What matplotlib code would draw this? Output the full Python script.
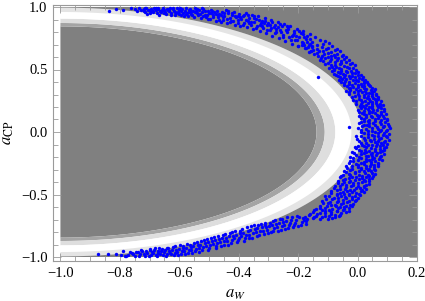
import numpy as np
import matplotlib
matplotlib.use("Agg")
import matplotlib.pyplot as plt
from matplotlib.ticker import MultipleLocator

plt.rcParams['font.family'] = ['Liberation Serif', 'DejaVu Serif']
plt.rcParams['mathtext.fontset'] = 'stix'

# allowed-region bands around (-1, 0): radius levels and fill colours
band_levels = [0.0, 0.845, 0.872, 0.907, 0.96, 0.995, 3.0]
band_colors = ['#808080', '#a4a4a4', '#dedede', '#ffffff', '#e4e4e4', '#808080']
x_scale = 1.02

# scan points (a_W, a_CP)
top_pts = [
    (-0.837, 0.970), (-0.812, 0.988), (-0.790, 0.975), (-0.763, 0.990), (-0.748, 0.982),
    (-0.742, 0.965), (-0.735, 0.992), (-0.728, 0.978),
    (-0.720, 0.985), (-0.716, 0.962), (-0.711, 0.994), (-0.705, 0.975), (-0.700, 0.955),
    (-0.694, 0.988), (-0.690, 0.968), (-0.684, 0.996), (-0.679, 0.980), (-0.675, 0.950),
    (-0.670, 0.990), (-0.664, 0.972), (-0.660, 0.958), (-0.655, 0.993), (-0.650, 0.978),
    (-0.646, 0.945), (-0.641, 0.985), (-0.636, 0.965), (-0.632, 0.995), (-0.627, 0.952),
    (-0.622, 0.982), (-0.618, 0.970), (-0.613, 0.940), (-0.608, 0.990), (-0.604, 0.960),
    (-0.600, 0.978), (-0.595, 0.935), (-0.590, 0.987), (-0.586, 0.952), (-0.582, 0.970),
    (-0.577, 0.994), (-0.572, 0.930), (-0.568, 0.962), (-0.563, 0.983), (-0.559, 0.945),
    (-0.555, 0.972), (-0.550, 0.920), (-0.546, 0.990), (-0.541, 0.955), (-0.537, 0.935),
    (-0.532, 0.976), (-0.528, 0.912), (-0.523, 0.962), (-0.519, 0.985), (-0.514, 0.940),
    (-0.510, 0.920), (-0.505, 0.968), (-0.501, 0.950),
    (-0.496, 0.905), (-0.492, 0.978), (-0.487, 0.935), (-0.483, 0.958), (-0.478, 0.890),
    (-0.474, 0.970), (-0.470, 0.918), (-0.465, 0.945), (-0.461, 0.880), (-0.457, 0.962),
    (-0.452, 0.900), (-0.448, 0.930), (-0.443, 0.975), (-0.439, 0.872), (-0.435, 0.950),
    (-0.430, 0.910), (-0.426, 0.888), (-0.421, 0.938), (-0.417, 0.962), (-0.413, 0.860),
    (-0.408, 0.920), (-0.404, 0.895), (-0.399, 0.945), (-0.395, 0.850), (-0.391, 0.905),
    (-0.386, 0.930), (-0.382, 0.875), (-0.377, 0.955), (-0.373, 0.840), (-0.369, 0.890),
    (-0.364, 0.915), (-0.360, 0.860), (-0.356, 0.940), (-0.352, 0.825), (-0.347, 0.878),
    (-0.343, 0.905), (-0.339, 0.848), (-0.334, 0.925), (-0.330, 0.810), (-0.326, 0.870),
    (-0.321, 0.890), (-0.317, 0.835), (-0.313, 0.910), (-0.308, 0.790), (-0.304, 0.855),
    (-0.300, 0.875), (-0.295, 0.815), (-0.291, 0.895), (-0.287, 0.770), (-0.282, 0.838),
    (-0.278, 0.860), (-0.274, 0.800), (-0.269, 0.878), (-0.265, 0.750), (-0.261, 0.820),
    (-0.256, 0.845), (-0.252, 0.780), (-0.248, 0.862), (-0.243, 0.728), (-0.239, 0.800),
    (-0.235, 0.828), (-0.230, 0.760), (-0.226, 0.845), (-0.222, 0.708), (-0.217, 0.780),
    (-0.213, 0.810), (-0.209, 0.740), (-0.204, 0.826), (-0.200, 0.690), (-0.196, 0.760),
    (-0.191, 0.792), (-0.187, 0.720), (-0.183, 0.805), (-0.178, 0.670), (-0.174, 0.742),
    (-0.170, 0.772), (-0.165, 0.700), (-0.161, 0.785), (-0.157, 0.650), (-0.152, 0.722),
    # second pass, filling the gaps
    (-0.718, 0.972), (-0.707, 0.948), (-0.697, 0.978), (-0.687, 0.958), (-0.677, 0.995),
    (-0.667, 0.940), (-0.657, 0.980), (-0.647, 0.962), (-0.638, 0.975), (-0.629, 0.938),
    (-0.620, 0.992), (-0.611, 0.955), (-0.602, 0.945), (-0.593, 0.972), (-0.584, 0.925),
    (-0.575, 0.955), (-0.566, 0.978), (-0.557, 0.935), (-0.548, 0.962), (-0.539, 0.985),
    (-0.530, 0.948), (-0.521, 0.928), (-0.512, 0.972), (-0.503, 0.905), (-0.494, 0.950),
    (-0.485, 0.918), (-0.476, 0.948), (-0.467, 0.898), (-0.458, 0.935), (-0.449, 0.955),
    (-0.440, 0.905), (-0.431, 0.882), (-0.422, 0.950), (-0.413, 0.930), (-0.404, 0.872),
    (-0.395, 0.920), (-0.386, 0.858), (-0.377, 0.900), (-0.368, 0.935), (-0.359, 0.880),
    (-0.350, 0.912), (-0.341, 0.830), (-0.332, 0.895), (-0.323, 0.850), (-0.314, 0.872),
    (-0.305, 0.820), (-0.296, 0.855), (-0.287, 0.880), (-0.278, 0.790), (-0.269, 0.840),
    (-0.260, 0.862), (-0.251, 0.760), (-0.242, 0.815), (-0.233, 0.842), (-0.224, 0.735),
    (-0.215, 0.795), (-0.206, 0.765), (-0.197, 0.808), (-0.188, 0.700), (-0.179, 0.758),
    (-0.170, 0.720), (-0.161, 0.748), (-0.154, 0.680),
    (-0.715, 0.990), (-0.695, 0.965), (-0.672, 0.982), (-0.652, 0.950), (-0.633, 0.985),
    (-0.615, 0.960), (-0.597, 0.992), (-0.579, 0.945), (-0.561, 0.965), (-0.543, 0.972),
    (-0.525, 0.990), (-0.507, 0.935), (-0.489, 0.965), (-0.471, 0.938), (-0.453, 0.918),
    (-0.437, 0.965), (-0.419, 0.885), (-0.401, 0.930), (-0.383, 0.940), (-0.365, 0.870),
    (-0.347, 0.925), (-0.329, 0.860), (-0.311, 0.885), (-0.293, 0.830), (-0.275, 0.822),
    (-0.257, 0.800), (-0.239, 0.850), (-0.221, 0.770), (-0.203, 0.738), (-0.185, 0.785),
    (-0.167, 0.680),
]

right_pts = [
    (-0.142, 0.760), (-0.185, 0.715), (-0.128, 0.738), (-0.160, 0.705), (-0.110, 0.725),
    (-0.200, 0.690), (-0.138, 0.695), (-0.095, 0.712), (-0.175, 0.672), (-0.120, 0.680),
    (-0.150, 0.660), (-0.085, 0.690), (-0.105, 0.662), (-0.165, 0.640), (-0.130, 0.645),
    (-0.070, 0.668), (-0.090, 0.640), (-0.145, 0.622), (-0.112, 0.625), (-0.060, 0.645),
    (-0.132, 0.605), (-0.078, 0.615),
    (-0.100, 0.600), (-0.050, 0.620), (-0.122, 0.590), (-0.065, 0.595), (-0.088, 0.582),
    (-0.040, 0.600), (-0.115, 0.570), (-0.055, 0.572), (-0.075, 0.560), (-0.100, 0.552),
    (-0.030, 0.575), (-0.060, 0.545), (-0.090, 0.535), (-0.020, 0.555), (-0.045, 0.530),
    (-0.072, 0.520), (-0.010, 0.535), (-0.095, 0.510), (-0.030, 0.512), (-0.055, 0.502),
    (-0.080, 0.495), (-0.005, 0.498), (-0.040, 0.488), (-0.065, 0.478), (0.002, 0.480),
    (-0.020, 0.470), (-0.050, 0.462), (-0.072, 0.455), (0.010, 0.460), (-0.030, 0.450),
    (-0.008, 0.442), (-0.058, 0.438), (0.018, 0.438), (-0.040, 0.428), (-0.015, 0.420),
    (0.025, 0.418), (-0.062, 0.415), (0.000, 0.408), (-0.030, 0.402),
    (0.032, 0.398), (-0.045, 0.392), (0.012, 0.388), (-0.018, 0.380), (0.040, 0.378),
    (-0.035, 0.370), (0.022, 0.365), (0.000, 0.358), (0.048, 0.355), (-0.025, 0.350),
    (0.030, 0.342), (0.008, 0.336), (-0.040, 0.332), (0.055, 0.330), (0.015, 0.322),
    (-0.012, 0.318), (0.040, 0.312), (0.062, 0.305), (-0.028, 0.302),
    (0.020, 0.298), (0.048, 0.290), (-0.008, 0.285), (0.070, 0.280), (0.032, 0.275),
    (0.005, 0.268), (0.058, 0.262), (-0.015, 0.255), (0.042, 0.250), (0.078, 0.245),
    (0.015, 0.240), (0.062, 0.232), (-0.005, 0.228), (0.030, 0.220), (0.085, 0.215),
    (0.048, 0.208), (0.008, 0.205),
    (0.070, 0.198), (0.025, 0.192), (0.090, 0.185), (0.052, 0.180), (0.002, 0.175),
    (0.038, 0.168), (0.078, 0.162), (0.015, 0.155), (0.060, 0.150), (0.095, 0.142),
    (0.030, 0.138), (0.005, 0.130), (0.072, 0.125), (0.048, 0.118), (0.088, 0.112),
    (0.020, 0.108), (0.060, 0.102),
    (0.098, 0.095), (0.035, 0.090), (0.010, 0.082), (0.075, 0.078), (0.052, 0.070),
    (0.102, 0.065), (0.020, 0.060), (0.088, 0.052), (0.040, 0.048), (0.065, 0.040),
    (0.000, 0.035), (0.108, 0.030), (0.028, 0.025), (0.080, 0.018), (0.050, 0.012),
    (0.095, 0.005), (0.012, 0.000),
    (0.068, -0.005), (0.105, -0.012), (0.035, -0.018), (0.085, -0.025), (-0.005, -0.030),
    (0.055, -0.035), (0.100, -0.042), (0.020, -0.048), (0.072, -0.055), (0.042, -0.060),
    (0.092, -0.068), (0.005, -0.072), (0.060, -0.078), (0.030, -0.085), (0.080, -0.090),
    (0.098, -0.095), (0.015, -0.100),
    (0.050, -0.105), (0.075, -0.112), (-0.010, -0.118), (0.030, -0.122), (0.090, -0.128),
    (0.060, -0.135), (0.005, -0.140), (0.040, -0.148), (0.082, -0.152), (-0.018, -0.158),
    (0.020, -0.165), (0.065, -0.170), (0.045, -0.178), (-0.005, -0.182), (0.078, -0.188),
    (0.030, -0.195), (-0.025, -0.200),
    (0.055, -0.205), (0.010, -0.210), (0.072, -0.218), (0.038, -0.222), (-0.015, -0.228),
    (0.060, -0.235), (0.020, -0.240), (-0.030, -0.248), (0.045, -0.252), (0.068, -0.258),
    (0.002, -0.262), (0.030, -0.270), (-0.038, -0.275), (0.055, -0.280), (0.012, -0.288),
    (-0.020, -0.292), (0.040, -0.298),
    (0.060, -0.305), (-0.045, -0.310), (0.022, -0.315), (-0.008, -0.322), (0.048, -0.328),
    (-0.030, -0.332), (0.005, -0.340), (0.035, -0.345), (-0.055, -0.350), (0.052, -0.355),
    (-0.018, -0.360), (0.015, -0.368), (-0.042, -0.372), (0.040, -0.378), (-0.008, -0.385),
    (-0.065, -0.390), (0.025, -0.395),
    (-0.030, -0.402), (0.000, -0.408), (0.038, -0.412), (-0.052, -0.418), (-0.015, -0.425),
    (0.020, -0.430), (-0.075, -0.435), (-0.040, -0.440), (0.008, -0.448), (0.030, -0.452),
    (-0.060, -0.458), (-0.025, -0.462), (-0.088, -0.470), (0.012, -0.475), (-0.048, -0.480),
    (-0.005, -0.488), (-0.070, -0.492), (-0.030, -0.498),
    (0.008, -0.502), (-0.095, -0.508), (-0.055, -0.512), (-0.018, -0.518), (-0.080, -0.525),
    (-0.040, -0.530), (-0.105, -0.535), (-0.005, -0.540), (-0.065, -0.548), (-0.028, -0.552),
    (-0.092, -0.558), (-0.050, -0.565), (-0.118, -0.570), (-0.015, -0.575), (-0.075, -0.580),
    (-0.040, -0.588), (-0.102, -0.592), (-0.060, -0.598),
    (-0.128, -0.605), (-0.030, -0.610), (-0.085, -0.612), (-0.050, -0.620), (-0.145, -0.625),
    (-0.108, -0.630), (-0.070, -0.635), (-0.040, -0.642), (-0.125, -0.648), (-0.160, -0.652),
    (-0.090, -0.655), (-0.058, -0.662), (-0.140, -0.668), (-0.110, -0.672), (-0.178, -0.678),
    (-0.075, -0.682), (-0.150, -0.690), (-0.100, -0.695),
    (-0.134, 0.444), (-0.030, 0.040),
    # second pass, filling the gaps
    (-0.180, 0.700), (-0.118, 0.702), (-0.152, 0.688), (-0.100, 0.676), (-0.135, 0.665),
    (-0.075, 0.655), (-0.158, 0.652), (-0.118, 0.648), (-0.098, 0.632), (-0.068, 0.628),
    (-0.135, 0.630), (-0.052, 0.612), (-0.120, 0.612), (-0.090, 0.605),
    (-0.075, 0.598), (-0.108, 0.590), (-0.045, 0.585), (-0.128, 0.578), (-0.068, 0.578),
    (-0.092, 0.565), (-0.038, 0.562), (-0.108, 0.545), (-0.075, 0.540), (-0.025, 0.542),
    (-0.055, 0.555), (-0.085, 0.522), (-0.035, 0.522), (-0.062, 0.512), (-0.015, 0.515),
    (-0.078, 0.505),
    (-0.055, 0.492), (-0.022, 0.490), (-0.085, 0.485), (-0.035, 0.478), (-0.010, 0.470),
    (-0.058, 0.470), (-0.080, 0.465), (-0.042, 0.458), (0.000, 0.455), (-0.018, 0.448),
    (-0.065, 0.445), (-0.045, 0.440), (0.005, 0.432), (-0.025, 0.432), (-0.052, 0.425),
    (0.015, 0.425), (-0.005, 0.418), (-0.042, 0.410), (0.020, 0.405), (-0.055, 0.402),
    (-0.010, 0.395), (0.022, 0.392), (-0.030, 0.385), (0.035, 0.385), (0.002, 0.375),
    (-0.045, 0.375), (0.015, 0.370), (0.042, 0.365), (-0.015, 0.362), (-0.030, 0.355),
    (0.020, 0.350), (0.058, 0.345), (-0.005, 0.345), (0.045, 0.338), (-0.025, 0.338),
    (0.025, 0.330), (0.000, 0.325), (0.050, 0.320), (-0.030, 0.320), (0.030, 0.312),
    (0.002, 0.305), (0.048, 0.302),
    (0.062, 0.295), (0.005, 0.292), (0.035, 0.288), (-0.018, 0.278), (0.020, 0.280),
    (0.052, 0.275), (0.068, 0.268), (0.040, 0.265), (0.012, 0.258), (0.025, 0.250),
    (0.062, 0.250), (-0.005, 0.245), (0.050, 0.240), (0.035, 0.235), (0.075, 0.228),
    (0.010, 0.225), (0.048, 0.222), (0.065, 0.215), (0.018, 0.212), (0.040, 0.202),
    (0.075, 0.205),
    (0.010, 0.195), (0.050, 0.195), (0.080, 0.190), (0.035, 0.185), (0.065, 0.175),
    (0.022, 0.172), (0.088, 0.168), (0.050, 0.162), (0.005, 0.158), (0.040, 0.150),
    (0.078, 0.148), (0.065, 0.140), (0.020, 0.142), (0.085, 0.130), (0.045, 0.128),
    (0.030, 0.120), (0.010, 0.115), (0.070, 0.112), (0.098, 0.105), (0.040, 0.100),
    (0.078, 0.095), (0.020, 0.092), (0.058, 0.085), (0.092, 0.082), (0.040, 0.075),
    (0.005, 0.070), (0.078, 0.065), (0.060, 0.058), (0.032, 0.055), (0.105, 0.050),
    (0.015, 0.045), (0.085, 0.038), (0.048, 0.030), (0.068, 0.025), (0.010, 0.018),
    (0.100, 0.015), (0.035, 0.008), (0.075, 0.005), (0.058, -0.002),
    (0.088, -0.008), (0.020, -0.008), (0.048, -0.020), (0.070, -0.028), (0.012, -0.035),
    (0.095, -0.032), (0.035, -0.040), (0.080, -0.048), (0.055, -0.052), (-0.002, -0.055),
    (0.025, -0.062), (0.105, -0.060), (0.070, -0.070), (0.045, -0.075), (0.090, -0.082),
    (0.012, -0.088), (0.065, -0.092), (0.035, -0.100), (0.085, -0.102),
    (0.000, -0.108), (0.062, -0.115), (0.020, -0.112), (0.095, -0.118), (0.045, -0.125),
    (0.075, -0.132), (-0.005, -0.130), (0.025, -0.140), (0.088, -0.142), (0.058, -0.148),
    (0.010, -0.152), (0.030, -0.158), (0.075, -0.162), (0.050, -0.165), (-0.012, -0.170),
    (0.088, -0.172), (0.010, -0.178), (0.062, -0.182), (0.035, -0.188), (0.050, -0.195),
    (0.005, -0.198),
    (0.075, -0.202), (-0.015, -0.208), (0.030, -0.212), (0.048, -0.215), (0.002, -0.220),
    (0.082, -0.225), (0.030, -0.230), (-0.025, -0.235), (0.045, -0.240), (0.070, -0.245),
    (0.010, -0.250), (-0.005, -0.255), (0.055, -0.262), (0.022, -0.258), (0.042, -0.268),
    (-0.020, -0.268), (0.068, -0.275), (0.000, -0.280), (0.030, -0.285), (-0.035, -0.288),
    (0.055, -0.295), (0.010, -0.298),
    (0.035, -0.302), (-0.025, -0.305), (0.005, -0.310), (0.045, -0.315), (-0.040, -0.322),
    (0.025, -0.325), (-0.010, -0.330), (0.058, -0.338), (-0.048, -0.340), (0.015, -0.348),
    (-0.025, -0.345), (0.040, -0.352), (-0.005, -0.358), (-0.060, -0.362), (0.028, -0.362),
    (-0.028, -0.370), (0.048, -0.368), (0.005, -0.375), (-0.050, -0.380), (0.020, -0.385),
    (-0.025, -0.392), (0.040, -0.392), (-0.045, -0.398),
    (0.015, -0.402), (-0.065, -0.405), (-0.015, -0.410), (0.030, -0.420), (-0.040, -0.422),
    (0.000, -0.428), (-0.060, -0.430), (-0.022, -0.435), (0.020, -0.440), (-0.005, -0.445),
    (-0.080, -0.448), (-0.042, -0.452), (0.015, -0.460), (-0.012, -0.465), (-0.070, -0.465),
    (-0.035, -0.470), (0.020, -0.482), (-0.060, -0.485), (-0.020, -0.478), (-0.090, -0.490),
    (0.005, -0.495), (-0.045, -0.495),
    (-0.070, -0.505), (-0.030, -0.505), (-0.010, -0.510), (-0.108, -0.515), (-0.042, -0.520),
    (-0.065, -0.525), (0.000, -0.525), (-0.020, -0.532), (-0.085, -0.538), (-0.050, -0.542),
    (-0.120, -0.550), (-0.010, -0.555), (-0.070, -0.560), (-0.035, -0.562), (-0.100, -0.570),
    (-0.055, -0.575), (-0.025, -0.582), (-0.088, -0.585), (-0.125, -0.588), (-0.072, -0.592),
    (-0.045, -0.598), (-0.018, -0.595),
    (-0.110, -0.605), (-0.065, -0.605), (-0.140, -0.612), (-0.045, -0.615), (-0.095, -0.620),
    (-0.120, -0.625), (-0.068, -0.628), (-0.030, -0.632), (-0.088, -0.640), (-0.150, -0.640),
    (-0.108, -0.645), (-0.055, -0.650), (-0.135, -0.658), (-0.075, -0.662), (-0.165, -0.665),
    (-0.095, -0.668), (-0.120, -0.680), (-0.062, -0.675), (-0.145, -0.682), (-0.085, -0.688),
    (-0.170, -0.695), (-0.125, -0.698),
]

bottom_pts = [
    (-0.172, -0.712), (-0.185, -0.690), (-0.192, -0.745), (-0.205, -0.668), (-0.210, -0.725),
    (-0.218, -0.760), (-0.225, -0.700), (-0.232, -0.742), (-0.238, -0.678), (-0.245, -0.775),
    (-0.250, -0.720), (-0.256, -0.755), (-0.262, -0.695), (-0.268, -0.790), (-0.275, -0.738),
    (-0.280, -0.768), (-0.286, -0.712), (-0.292, -0.800), (-0.298, -0.750), (-0.304, -0.780),
    (-0.310, -0.725), (-0.316, -0.815), (-0.322, -0.762), (-0.328, -0.795), (-0.334, -0.740),
    (-0.340, -0.835), (-0.346, -0.778), (-0.352, -0.810), (-0.358, -0.755),
    (-0.364, -0.850), (-0.370, -0.790), (-0.376, -0.825), (-0.382, -0.868), (-0.388, -0.772),
    (-0.394, -0.808), (-0.400, -0.845), (-0.406, -0.880), (-0.412, -0.790), (-0.418, -0.830),
    (-0.424, -0.862), (-0.430, -0.808), (-0.436, -0.900), (-0.442, -0.845), (-0.448, -0.875),
    (-0.454, -0.822),
    (-0.460, -0.915), (-0.466, -0.858), (-0.472, -0.890), (-0.478, -0.930), (-0.484, -0.838),
    (-0.490, -0.872), (-0.496, -0.905), (-0.502, -0.945), (-0.508, -0.855), (-0.514, -0.890),
    (-0.520, -0.922), (-0.526, -0.870), (-0.532, -0.958), (-0.538, -0.905), (-0.544, -0.935),
    (-0.550, -0.885), (-0.556, -0.965),
    (-0.562, -0.918), (-0.568, -0.945), (-0.574, -0.895), (-0.580, -0.975), (-0.586, -0.930),
    (-0.592, -0.955), (-0.598, -0.905), (-0.604, -0.985), (-0.610, -0.940), (-0.616, -0.965),
    (-0.622, -0.920), (-0.628, -0.978), (-0.634, -0.950), (-0.640, -0.930), (-0.646, -0.990),
    (-0.652, -0.960),
    (-0.658, -0.935), (-0.664, -0.975), (-0.670, -0.948), (-0.676, -0.992), (-0.682, -0.925),
    (-0.688, -0.965), (-0.694, -0.982), (-0.700, -0.945), (-0.708, -0.970), (-0.716, -0.990),
    (-0.724, -0.955), (-0.732, -0.978), (-0.740, -0.962), (-0.750, -0.988), (-0.760, -0.970),
    (-0.772, -0.982),
    (-0.873, -0.976), (-0.840, -0.978), (-0.813, -0.975), (-0.797, -0.985), (-0.790, -0.952),
    (-0.783, -0.992),
    # second pass, filling the gaps
    (-0.175, -0.735), (-0.180, -0.700), (-0.188, -0.722), (-0.196, -0.680), (-0.200, -0.752),
    (-0.208, -0.700), (-0.214, -0.740), (-0.220, -0.680), (-0.228, -0.725), (-0.234, -0.765),
    (-0.240, -0.712), (-0.248, -0.745), (-0.253, -0.692), (-0.259, -0.782), (-0.265, -0.728),
    (-0.271, -0.760), (-0.277, -0.705), (-0.283, -0.790), (-0.289, -0.745), (-0.295, -0.725),
    (-0.301, -0.808), (-0.307, -0.762), (-0.313, -0.745), (-0.319, -0.792), (-0.325, -0.735),
    (-0.331, -0.820), (-0.337, -0.768), (-0.343, -0.800), (-0.349, -0.745), (-0.355, -0.845),
    (-0.361, -0.780), (-0.367, -0.820), (-0.373, -0.762), (-0.379, -0.850), (-0.385, -0.805),
    (-0.391, -0.835), (-0.397, -0.788), (-0.403, -0.865), (-0.409, -0.820), (-0.415, -0.850),
    (-0.421, -0.800), (-0.427, -0.885), (-0.433, -0.835), (-0.439, -0.868), (-0.445, -0.815),
    (-0.451, -0.905), (-0.457, -0.850), (-0.463, -0.880), (-0.469, -0.835), (-0.475, -0.910),
    (-0.481, -0.865), (-0.487, -0.895), (-0.493, -0.850), (-0.499, -0.925), (-0.505, -0.880),
    (-0.511, -0.912), (-0.517, -0.865), (-0.523, -0.945), (-0.529, -0.900), (-0.535, -0.930),
    (-0.541, -0.880), (-0.547, -0.955), (-0.553, -0.915), (-0.559, -0.945), (-0.565, -0.900),
    (-0.571, -0.965), (-0.577, -0.925), (-0.583, -0.950), (-0.589, -0.915), (-0.595, -0.978),
    (-0.601, -0.935), (-0.607, -0.962), (-0.613, -0.915), (-0.619, -0.985), (-0.625, -0.945),
    (-0.631, -0.970), (-0.637, -0.925), (-0.643, -0.975), (-0.649, -0.940), (-0.655, -0.985),
    (-0.661, -0.955), (-0.667, -0.930), (-0.673, -0.968), (-0.679, -0.985), (-0.685, -0.945),
    (-0.691, -0.960), (-0.697, -0.935), (-0.703, -0.988), (-0.712, -0.955), (-0.720, -0.975),
    (-0.728, -0.945), (-0.736, -0.990), (-0.745, -0.960), (-0.755, -0.978), (-0.766, -0.958),
    (-0.778, -0.990),
]

x_ticks = [-1.0, -0.8, -0.6, -0.4, -0.2, 0.0, 0.2]
y_ticks = [-1.0, -0.5, 0.0, 0.5, 1.0]

fig = plt.figure(figsize=(4.25, 3.01), dpi=100)
ax = fig.add_axes([53 / 425, 40 / 301, 364 / 425, 256 / 301])

# shaded bands, only over the scanned domain
gx = np.linspace(-1.0, 0.2, 700)
gy = np.linspace(-1.0, 1.0, 900)
X, Y = np.meshgrid(gx, gy)
R = np.sqrt(((X + 1.0) / x_scale) ** 2 + Y ** 2)
ax.contourf(X, Y, R, levels=band_levels, colors=band_colors, antialiased=True)

pts = np.array(top_pts + right_pts + bottom_pts)
ax.scatter(pts[:, 0], pts[:, 1], s=6, c='#0000ff', linewidths=0, zorder=3)

ax.set_xlim(-1.025, 0.2)
ax.set_ylim(-1.032, 1.016)
ax.set_xticks(x_ticks)
ax.set_yticks(y_ticks)
ax.set_xticklabels([f"{v:.1f}".replace('-', '\u2212') for v in x_ticks])
ax.set_yticklabels([f"{v:.1f}".replace('-', '\u2212') for v in y_ticks])
ax.xaxis.set_minor_locator(MultipleLocator(0.05))
ax.yaxis.set_minor_locator(MultipleLocator(0.1))

frame_col = '#9a9a9a'
for sp in ax.spines.values():
    sp.set_color(frame_col)
    sp.set_linewidth(0.8)
ax.tick_params(which='both', direction='in', top=True, right=True, color=frame_col,
               labelsize=10.5, width=0.6, pad=4)
ax.tick_params(which='major', length=6)
ax.tick_params(which='minor', length=3.5)

ax.set_xlabel(r'$a_{W}$', fontsize=12)
ax.set_ylabel(r'$a_{\mathrm{CP}}$', fontsize=12)
ax.xaxis.set_label_coords(0.5, -0.129)
ax.xaxis.label.set_va('center')
ax.yaxis.set_label_coords(-0.124, 0.5)
ax.yaxis.label.set_va('center')

fig.savefig('out.png', dpi=100)
